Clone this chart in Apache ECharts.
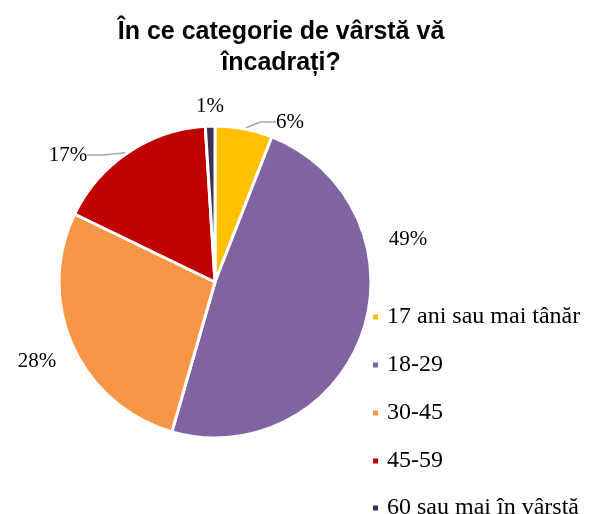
<!DOCTYPE html>
<html>
<head>
<meta charset="utf-8">
<script src="https://cdn.jsdelivr.net/npm/echarts@6/dist/echarts.min.js"></script>
<style>
  html, body { margin: 0; padding: 0; background: #fff; }
  #chart { width: 589px; height: 514px; }
</style>
</head>
<body>
<div id="chart"></div>
<script>
// Age groups of respondents (percent of answers)
const categories = ['17 ani sau mai tânăr', '18-29', '30-45', '45-59', '60 sau mai în vârstă'];
const values = [6, 49, 28, 17, 1];
const colors = ['#FFC000', '#8064A2', '#F79646', '#C00000', '#403152'];
const titleText = 'În ce categorie de vârstă vă\nîncadrați?';

// Hand-placed label anchors (best-fit style), keyed by slice index
const labelSpots = [
  { x: 290, y: 122 },
  { x: 408, y: 239 },
  { x: 37, y: 361 },
  { x: 68, y: 155 },
  { x: 210, y: 106 }
];

const chart = echarts.init(document.getElementById('chart'), null, { renderer: 'canvas' });

const data = categories.map((name, i) => ({
  name: name,
  value: values[i],
  itemStyle: { color: colors[i] },
  labelLine: { show: i === 0 || i === 3 }
}));

const legendText = {
  fontFamily: 'Liberation Serif, Times New Roman, serif',
  fontSize: 24,
  color: '#000',
  padding: [0, 0, 0, 3]
};

chart.setOption({
  animation: false,
  backgroundColor: '#ffffff',
  title: {
    text: titleText,
    left: 276,
    textAlign: 'center',
    top: 12,
    textStyle: {
      fontFamily: 'Liberation Sans, Arial, sans-serif',
      fontWeight: 'bold',
      fontSize: 25,
      lineHeight: 31,
      color: '#000'
    }
  },
  legend: [{
    orient: 'vertical',
    left: 366,
    top: 300,
    padding: 5,
    itemWidth: 7,
    itemHeight: 7,
    itemGap: 24,
    icon: 'rect',
    textStyle: legendText,
    data: categories.slice(0, 4)
  }, {
    orient: 'vertical',
    left: 366,
    top: 491,
    padding: 5,
    itemWidth: 7,
    itemHeight: 7,
    icon: 'rect',
    textStyle: legendText,
    data: categories.slice(4)
  }],
  series: [{
    type: 'pie',
    center: [215, 282],
    radius: 156,
    startAngle: 90,
    clockwise: true,
    avoidLabelOverlap: false,
    itemStyle: { borderColor: '#ffffff', borderWidth: 3 },
    label: {
      show: true,
      position: 'outside',
      formatter: p => p.value + '%',
      fontFamily: 'Liberation Serif, Times New Roman, serif',
      fontSize: 21,
      color: '#000'
    },
    labelLine: {
      length: 6,
      length2: 16,
      lineStyle: { color: '#a6a6a6', width: 1.5 }
    },
    labelLayout: p => {
      const s = labelSpots[p.dataIndex];
      return { x: s.x, y: s.y, align: 'center', verticalAlign: 'middle' };
    },
    data: data
  }]
});
</script>
</body>
</html>
